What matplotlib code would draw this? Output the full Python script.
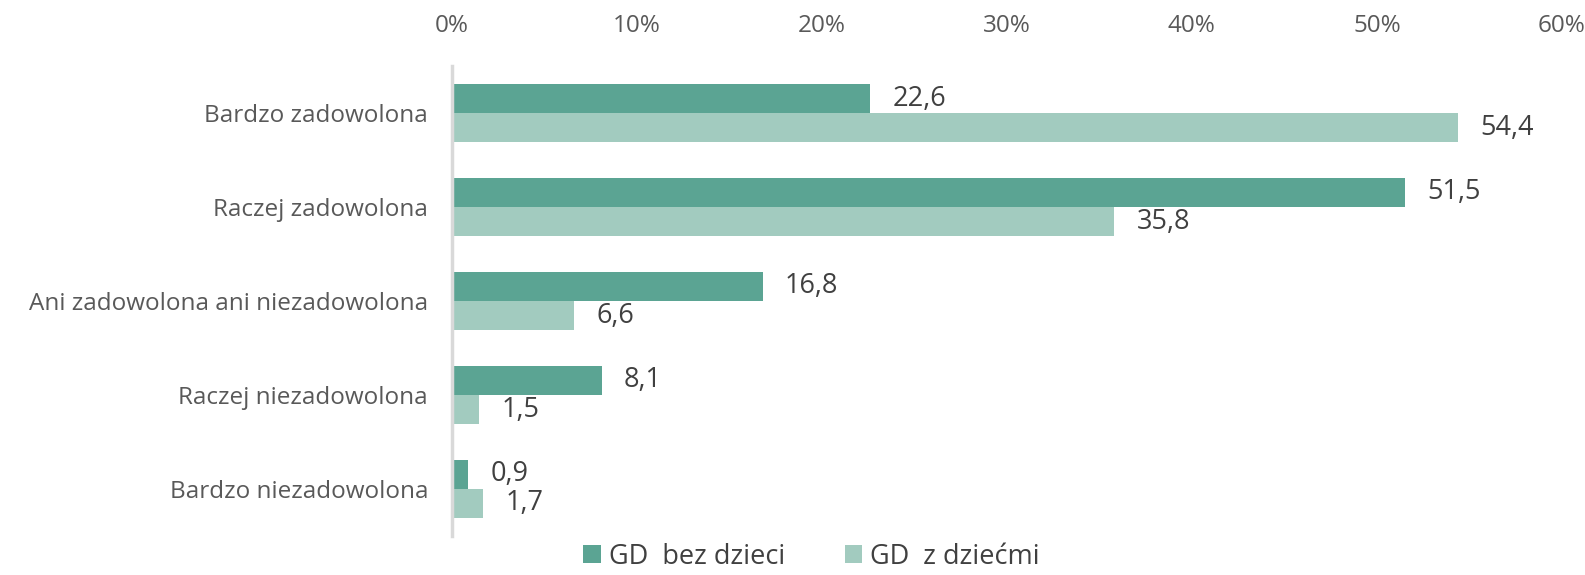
import numpy as np
import matplotlib
matplotlib.use("Agg")
import matplotlib.pyplot as plt
from matplotlib.ticker import PercentFormatter

categories = ['Bardzo zadowolona', 'Raczej zadowolona', 'Ani zadowolona ani niezadowolona',
              'Raczej niezadowolona', 'Bardzo niezadowolona']
bez_dzieci = [22.6, 51.5, 16.8, 8.1, 0.9]
z_dziecmi = [54.4, 35.8, 6.6, 1.5, 1.7]
series_names = ['GD  bez dzieci', 'GD  z dziećmi']
xticks = [0, 10, 20, 30, 40, 50, 60]

plt.rcParams['font.family'] = ['Open Sans', 'DejaVu Sans']

fig = plt.figure(figsize=(15.85, 5.75), dpi=100)
ax = fig.add_axes([0.285, 0.068, 0.7005, 0.817])

y = np.arange(len(categories))
h = 0.31
b1 = ax.barh(y - h / 2, bez_dzieci, height=h, color='#5ba493', label=series_names[0])
b2 = ax.barh(y + h / 2, z_dziecmi, height=h, color='#a2cbbf', label=series_names[1])

for bars, vals in ((b1, bez_dzieci), (b2, z_dziecmi)):
    for bar, v in zip(bars, vals):
        ax.text(v + 1.2, bar.get_y() + bar.get_height() / 2, f'{v:.1f}'.replace('.', ','),
                va='center', ha='left', fontsize=19.5, color='#404040')

ax.set_xlim(0, 60)
ax.set_ylim(len(categories) - 0.5, -0.5)
ax.set_yticks(y)
ax.set_yticklabels(categories)
ax.set_xticks(xticks)
ax.xaxis.set_major_formatter(PercentFormatter(decimals=0))
ax.xaxis.tick_top()
ax.tick_params(axis='x', length=0, pad=20, labelsize=17.5, colors='#595959')
ax.tick_params(axis='y', length=0, pad=17, labelsize=17.5, colors='#595959')
for s in ['top', 'right', 'bottom']:
    ax.spines[s].set_visible(False)
ax.spines['left'].set_color('#d9d9d9')
ax.spines['left'].set_linewidth(2.5)

fig.legend(handles=[b1, b2], loc='center', bbox_to_anchor=(0.512, 0.032), ncol=2, frameon=False,
           fontsize=19.5, labelcolor='#404040', handlelength=0.65, handleheight=0.65,
           handletextpad=0.3, columnspacing=2.2)

fig.savefig('out.png', dpi=100)
